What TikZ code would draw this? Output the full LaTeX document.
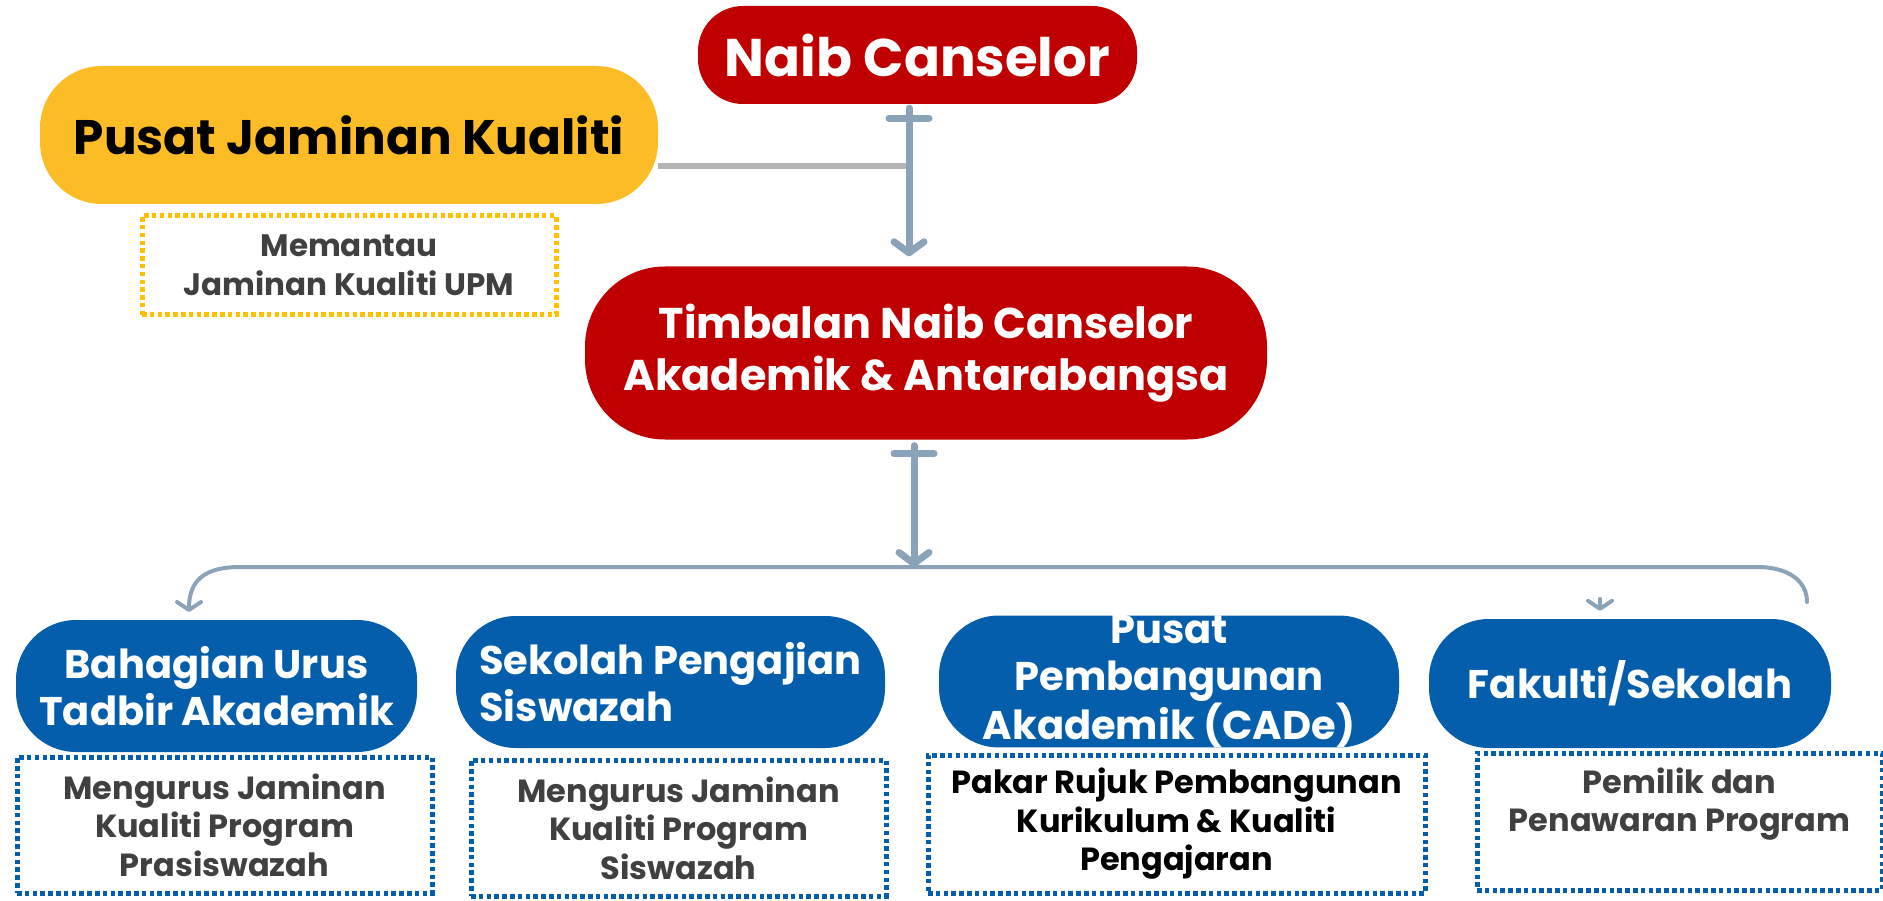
\documentclass[tikz,border=0pt]{standalone}
\usepackage{fontspec}
\setmainfont{Poppins}
\usetikzlibrary{arrows.meta,positioning}

\definecolor{ucred}{HTML}{C00000}
\definecolor{ucyellow}{HTML}{FBBC26}
\definecolor{ucblue}{HTML}{055EAB}
\definecolor{linkgrey}{HTML}{8BA3B8}
\definecolor{sidegrey}{HTML}{B4B4B4}
\definecolor{notetext}{HTML}{404040}
\definecolor{dotyellow}{HTML}{FFC000}

\tikzset{
  pill/.style={rectangle, rounded corners=#1, inner sep=0pt, align=center},
  bluebox/.style={pill=60pt, fill=ucblue, text=white, font=\bfseries\fontsize{40}{47}\selectfont},
  note/.style={rectangle, draw=#1, line width=5pt, dash pattern=on 4.5pt off 3.3pt,
    inner sep=0pt, align=center, text=notetext, font=\bfseries\fontsize{32}{38.5}\selectfont},
  link/.style={draw=linkgrey, line width=7pt, line cap=round},
  barb/.style={-{Straight Barb[length=11pt, width=30pt, round]}},
}

\begin{document}
\begin{tikzpicture}[x=1pt, y=-1pt]
  \useasboundingbox (0,0) rectangle (1883,901);
  % top of the chart
  \node[pill=45pt, fill=ucred, text=white, minimum width=439pt, minimum height=98pt,
    font=\bfseries\fontsize{53}{60}\selectfont] (naib) at (917.5,55) {Naib Canselor};
  \node[pill=62pt, fill=ucyellow, text=black, minimum width=618pt, minimum height=138pt,
    font=\bfseries\fontsize{48.5}{56}\selectfont] (pjk) at (349,135) {Pusat Jaminan Kualiti};
  \node[note=dotyellow, minimum width=414pt, minimum height=99pt,
    font=\bfseries\fontsize{31}{39}\selectfont] (pjknote) at (349,265.5) {Memantau\\Jaminan Kualiti UPM};
  \node[pill=80pt, fill=ucred, text=white, minimum width=682pt, minimum height=173pt,
    font=\bfseries\fontsize{43}{51.5}\selectfont] (tnc) at (926,353)
    {Timbalan Naib Canselor\\Akademik \& Antarabangsa};

  % the four units
  \node[bluebox, minimum width=401pt, minimum height=132pt] (bahagian) at (216.5,686)
    {Bahagian Urus\\Tadbir Akademik};
  \node[bluebox, align=left, minimum width=429pt, minimum height=132pt] (sps) at (670.5,682)
    {Sekolah Pengajian\\Siswazah};
  \node[bluebox, minimum width=460pt, minimum height=131pt] (cade) at (1169,681.5)
    {Pusat\\Pembangunan\\Akademik (CADe)};
  \node[bluebox, minimum width=402pt, minimum height=129pt] (fak) at (1630,683.5)
    {Fakulti/Sekolah};

  \node[note=ucblue, minimum width=415pt, minimum height=136pt] (bahagiannote) at (224.5,825)
    {Mengurus Jaminan\\Kualiti Program\\Prasiswazah};
  \node[note=ucblue, minimum width=415pt, minimum height=136pt] (spsnote) at (678.5,828)
    {Mengurus Jaminan\\Kualiti Program\\Siswazah};
  \node[note=ucblue, text=black, minimum width=497pt, minimum height=138pt] (cadenote) at (1176.5,824)
    {Pakar Rujuk Pembangunan\\Kurikulum \& Kualiti\\Pengajaran};
  \node[note=ucblue, text depth=44pt, minimum width=405pt, minimum height=137pt] (faknote) at (1679.5,821.5)
    {Pemilik dan\\Penawaran Program};

  % connectors
  \coordinate (tee1) at ([xshift=-8.5pt,yshift=-14pt]naib.south);
  \coordinate (tee2) at ([xshift=-12pt,yshift=-14pt]tnc.south);
  \coordinate (bus) at (914,567);
  \draw[sidegrey, line width=6pt] ([yshift=-31pt]pjk.east) -- ([yshift=-31pt]pjk.east -| tee1);
  \draw[link, barb] ([xshift=-8.5pt,yshift=-4pt]naib.south) -- ([yshift=10pt]tee1 |- tnc.north);
  \draw[link] ([xshift=-20pt]tee1) -- ([xshift=20pt]tee1);
  \draw[link, barb] ([xshift=-12pt,yshift=-6pt]tnc.south) -- (tee2 |- bus);
  \draw[link] ([xshift=-20pt]tee2) -- ([xshift=20pt]tee2);
  \draw[link, line width=4pt, -{Straight Barb[length=8pt, width=24pt, round]}]
    (1807,602) .. controls (1807,582) and (1790,567) .. (1757,567) -- (bus)
    -- (240,567) .. controls (205,567) and (189,580) .. (189,612);
  \draw[link, line width=4pt, -{Straight Barb[length=8pt, width=24pt, round]}]
    ([yshift=20pt]fak.north -| 1600,0) -- ([yshift=8pt]fak.north -| 1600,0);
\end{tikzpicture}
\end{document}
